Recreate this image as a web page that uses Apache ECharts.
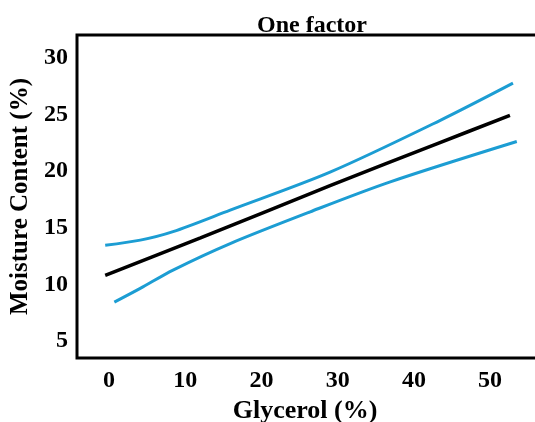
<!DOCTYPE html>
<html>
<head>
<meta charset="utf-8">
<script src="https://cdn.jsdelivr.net/npm/echarts@6/dist/echarts.min.js"></script>
<style>
html,body{margin:0;padding:0;background:#fff;overflow:hidden;}
#chart{width:535px;height:422px;}
</style>
</head>
<body>
<div id="chart"></div>
<script>
// Data
const titleText = 'One factor';
const xTitle = 'Glycerol (%)';
const yTitle = 'Moisture Content (%)';
const xTicks = [0, 10, 20, 30, 40, 50];
const yTicks = [5, 10, 15, 20, 25, 30];

const meanX = [-0.5, 12, 29, 43, 52.6];
const meanY = [10.8, 14.1, 18.7, 22.4, 24.9];

const upperX = [-0.5, 4.1, 8.4, 15.9, 29, 43.4, 53];
const upperY = [13.45, 13.9, 14.65, 16.55, 19.9, 24.45, 27.75];

const lowerX = [0.7, 4.1, 8.4, 15.9, 26.4, 36.9, 53.5];
const lowerY = [8.43, 9.64, 11.26, 13.6, 16.4, 19.04, 22.6];

const pairs = (xs, ys) => xs.map((x, i) => [x, ys[i]]);

const FONT = 'Liberation Serif';
const chart = echarts.init(document.getElementById('chart'));
chart.setOption({
  animation: false,
  backgroundColor: '#fff',
  title: {
    text: titleText,
    left: 307, top: 9,
    textAlign: 'center',
    textStyle: {fontFamily: FONT, fontWeight: 'bold', fontSize: 24, color: '#000'}
  },
  grid: {
    left: 77, top: 35, width: 468, height: 323,
    containLabel: false,
    outerBoundsMode: 'none',
    show: true, borderColor: '#000', borderWidth: 3, backgroundColor: 'transparent'
  },
  xAxis: {
    type: 'value', min: -4.2, max: 57.2,
    splitLine: {show: false},
    axisLine: {show: false},
    axisTick: {show: false},
    axisLabel: {
      customValues: xTicks,
      margin: 11,
      fontFamily: FONT, fontWeight: 'bold', fontSize: 24, color: '#000'
    },
    name: xTitle, nameLocation: 'middle', nameGap: 38,
    nameTextStyle: {fontFamily: FONT, fontWeight: 'bold', fontSize: 26, color: '#000', padding: [0, 12, 0, 0]}
  },
  yAxis: {
    type: 'value', min: 3.5, max: 32,
    splitLine: {show: false},
    axisLine: {show: false},
    axisTick: {show: false},
    axisLabel: {
      customValues: yTicks,
      margin: 9,
      fontFamily: FONT, fontWeight: 'bold', fontSize: 24, color: '#000'
    },
    name: yTitle, nameLocation: 'middle', nameGap: 43,
    nameTextStyle: {fontFamily: FONT, fontWeight: 'bold', fontSize: 25, color: '#000'}
  },
  series: [
    {type: 'line', data: pairs(upperX, upperY), smooth: 0.3, showSymbol: false,
     lineStyle: {color: '#1c9dd3', width: 3}},
    {type: 'line', data: pairs(lowerX, lowerY), smooth: 0.3, showSymbol: false,
     lineStyle: {color: '#1c9dd3', width: 3}},
    {type: 'line', data: pairs(meanX, meanY), smooth: 0.3, showSymbol: false,
     lineStyle: {color: '#000', width: 3.5}}
  ]
});
</script>
</body>
</html>
